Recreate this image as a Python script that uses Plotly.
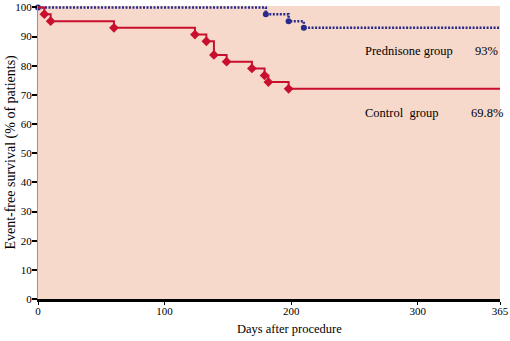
import plotly.graph_objects as go

# Kaplan-Meier event-free survival, days after procedure
control_days = [0, 5, 10, 60, 124, 133, 139, 149, 169, 179, 182, 198]
control_surv = [100, 97.7, 95.3, 93.0, 90.7, 88.4, 83.7, 81.4, 79.1, 76.7, 74.4, 72.1]

pred_days = [0, 180, 198, 210]
pred_surv = [100, 97.7, 95.3, 93.0]

follow_up_end = 365

x_ticks = [0, 100, 200, 300, 365]
y_ticks = [0, 10, 20, 30, 40, 50, 60, 70, 80, 90, 100]

group_labels = ["Prednisone group", "Control\u00a0 group"]
group_rates = ["93%", "69.8%"]

RED = "rgb(200,16,46)"
BLUE = "rgb(40,42,140)"
BG = "rgb(246,217,202)"
FONT = "Liberation Serif"

W, H = 510, 341
L, R, T, B = 38, 502, 1, 299  # plot area in pixels


def px(x):
    return (x - L) / (R - L)


def py(y):
    return (B - y) / (B - T)


fig = go.Figure()

# Prednisone group: dotted step curve
fig.add_trace(go.Scatter(
    x=pred_days + [follow_up_end], y=pred_surv + [pred_surv[-1]],
    mode="lines", line=dict(color=BLUE, width=2.5, dash="2px,1.5px", shape="hv"),
    hoverinfo="skip", showlegend=False))
fig.add_trace(go.Scatter(
    x=pred_days, y=pred_surv, mode="markers",
    marker=dict(color=BLUE, size=6, symbol="circle"),
    cliponaxis=False, showlegend=False))

# Control group: solid step curve
fig.add_trace(go.Scatter(
    x=control_days + [follow_up_end], y=control_surv + [control_surv[-1]],
    mode="lines", line=dict(color=RED, width=2, shape="hv"),
    hoverinfo="skip", showlegend=False))
fig.add_trace(go.Scatter(
    x=control_days[1:], y=control_surv[1:], mode="markers",
    marker=dict(color=RED, size=7.5, symbol="diamond"),
    cliponaxis=False, showlegend=False))

annotations = [
    dict(x=px(364), y=py(47), text=group_labels[0], xanchor="left"),
    dict(x=px(502), y=py(47), text=group_rates[0], xanchor="right"),
    dict(x=px(364), y=py(110), text=group_labels[1], xanchor="left"),
    dict(x=px(507), y=py(110), text=group_rates[1], xanchor="right"),
]
for a in annotations:
    a.update(xref="paper", yref="paper", yanchor="middle", showarrow=False,
             font=dict(family=FONT, size=12.5, color="black"))

annotations.append(dict(
    x=px(291), y=py(330), xref="paper", yref="paper", text="Days after procedure",
    showarrow=False, xanchor="center", yanchor="middle",
    font=dict(family=FONT, size=12.5, color="black")))
annotations.append(dict(
    x=px(10), y=py(150), xref="paper", yref="paper",
    text="Event-free survival (% of patients)", textangle=-90,
    showarrow=False, xanchor="center", yanchor="middle",
    font=dict(family=FONT, size=14, color="black")))

fig.update_layout(
    width=W, height=H,
    margin=dict(l=L, r=W - R, t=T, b=H - B, pad=0),
    paper_bgcolor="white", plot_bgcolor=BG,
    font=dict(family=FONT, size=11, color="black"),
    annotations=annotations,
    xaxis=dict(range=[0, follow_up_end], tickvals=x_ticks,
               ticktext=[str(v) for v in x_ticks],
               showgrid=False, zeroline=False,
               showline=True, linecolor="black", linewidth=3,
               ticks="outside", ticklen=3, tickwidth=1, tickcolor="black",
               ticklabelstandoff=-3, ticklabeloverflow="allow",
               tickfont=dict(family=FONT, size=11)),
    yaxis=dict(range=[0, 100.5], tickvals=y_ticks,
               showgrid=False, zeroline=False,
               showline=True, linecolor="rgb(150,150,150)", linewidth=1,
               ticks="outside", ticklen=5, tickwidth=2, tickcolor="black",
               ticklabelstandoff=-2, ticklabeloverflow="allow",
               tickfont=dict(family=FONT, size=11)),
)

fig.write_html("out.html")
